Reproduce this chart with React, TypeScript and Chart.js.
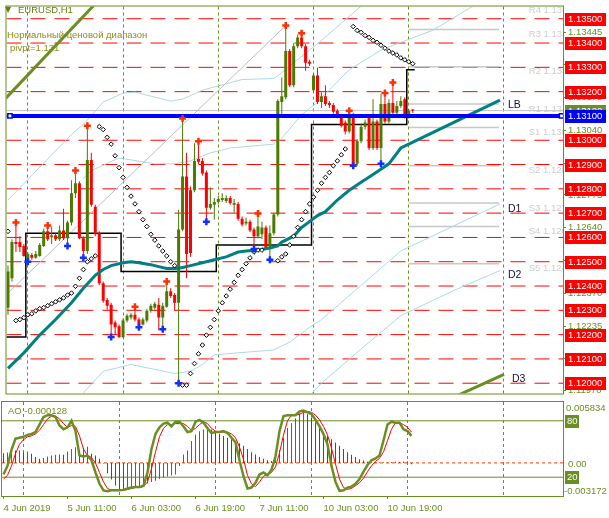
import React, { useEffect, useRef } from "react";
import { Chart, registerables } from "chart.js";

Chart.register(...registerables);

const W = 609;
const MAIN_H = 400;
const SUB_H = 118;
const X_MIN = -0.375;
const X_MAX = 139.875;
const Y_MIN = 1.119577;
const Y_MAX = 1.135504;
const AO_MIN = -0.003172;
const AO_MAX = 0.005834;

const OLIVE = "#6B8E23";
const UP = "#4a7a00";
const DOWN = "#ff0000";
const FONT = "Liberation Sans";

// ---------- candles (EURUSD H1) ----------
const OPEN = [
  1.12311, 1.12432, 1.12581, 1.12581, 1.12565, 1.12504, 1.12528, 1.12516, 1.12524, 1.12565,
  1.12625, 1.12601, 1.12609, 1.12593, 1.12629, 1.12597, 1.12661, 1.12782, 1.12823, 1.12597,
  1.12544, 1.12919, 1.12726, 1.12617, 1.12411, 1.12343, 1.12323, 1.1225, 1.12234, 1.1219,
  1.12258, 1.1227, 1.12282, 1.12262, 1.12242, 1.12258, 1.12298, 1.12311, 1.12323, 1.1227,
  1.12315, 1.12379, 1.12363, 1.12331, 1.12633, 1.12851, 1.12794, 1.12794, 1.12923, 1.12915,
  1.12867, 1.12722, 1.12734, 1.12746, 1.12754, 1.1275, 1.12762, 1.12734, 1.12738, 1.12677,
  1.12657, 1.12665, 1.12633, 1.12605, 1.12613, 1.12641, 1.12556, 1.12617, 1.12694, 1.13157,
  1.13177, 1.13367, 1.13226, 1.13387, 1.13423, 1.13387, 1.13323, 1.13206, 1.13266, 1.13157,
  1.13181, 1.13153, 1.13145, 1.13121, 1.13101, 1.13073, 1.13036, 1.13105, 1.12903, 1.12996,
  1.13056, 1.13093, 1.12968, 1.13077, 1.12968, 1.13149, 1.13077, 1.13153, 1.13113, 1.13141,
  1.13169, 1.13097, 1.13125,
];
const HIGH = [
  1.12484, 1.12593, 1.12661, 1.12605, 1.12573, 1.1254, 1.12536, 1.12544, 1.12577, 1.12637,
  1.12649, 1.12645, 1.12617, 1.12649, 1.12718, 1.12669, 1.12835, 1.12875, 1.12831, 1.12605,
  1.1306, 1.12948, 1.12734, 1.12625, 1.12419, 1.12351, 1.12331, 1.12258, 1.12242, 1.12266,
  1.12286, 1.1229, 1.12315, 1.1227, 1.1227, 1.12307, 1.12327, 1.12335, 1.12351, 1.12331,
  1.12419, 1.12391, 1.12371, 1.12714, 1.13089, 1.12948, 1.1281, 1.12988, 1.12996, 1.12927,
  1.12875, 1.12806, 1.12762, 1.1277, 1.12782, 1.12774, 1.1277, 1.12758, 1.12746, 1.12686,
  1.12681, 1.12673, 1.12641, 1.12698, 1.12665, 1.12649, 1.12649, 1.12702, 1.13169, 1.13258,
  1.13472, 1.13375, 1.13399, 1.13435, 1.1344, 1.13395, 1.13331, 1.13274, 1.13298, 1.13198,
  1.13226, 1.13161, 1.13153, 1.13129, 1.13109, 1.13081, 1.13121, 1.13113, 1.13004, 1.13069,
  1.13085, 1.13101, 1.13169, 1.13085, 1.1319, 1.13194, 1.13169, 1.13238, 1.13161, 1.13181,
  1.13177, 1.13129, 1.13129,
];
const LOW = [
  1.12282, 1.12419, 1.1254, 1.1254, 1.1252, 1.125, 1.12508, 1.12512, 1.1252, 1.12561,
  1.12585, 1.12573, 1.12585, 1.12585, 1.12589, 1.12565, 1.12649, 1.12762, 1.12593, 1.12516,
  1.12532, 1.12726, 1.12605, 1.12403, 1.12331, 1.12302, 1.1219, 1.12198, 1.12186, 1.12186,
  1.1225, 1.12262, 1.12254, 1.1223, 1.12238, 1.1225, 1.1229, 1.12302, 1.12218, 1.12222,
  1.12311, 1.12351, 1.12298, 1.12, 1.12625, 1.12432, 1.1252, 1.12786, 1.12903, 1.12855,
  1.12665, 1.12714, 1.12673, 1.12738, 1.12746, 1.12742, 1.12734, 1.12702, 1.12669, 1.12645,
  1.12649, 1.12621, 1.12552, 1.12597, 1.12593, 1.12548, 1.12508, 1.12609, 1.12686, 1.13097,
  1.13169, 1.13218, 1.13218, 1.13379, 1.13379, 1.13286, 1.13306, 1.13198, 1.13149, 1.13133,
  1.13141, 1.13133, 1.13109, 1.13089, 1.13052, 1.13024, 1.13028, 1.12895, 1.12895, 1.12988,
  1.13044, 1.1296, 1.1296, 1.1296, 1.12903, 1.13069, 1.13069, 1.13105, 1.13105, 1.13133,
  1.13089, 1.13089, 1.13113,
];
const CLOSE = [
  1.1246, 1.12581, 1.12573, 1.12561, 1.12524, 1.12532, 1.12516, 1.12532, 1.12569, 1.12625,
  1.12593, 1.12609, 1.12593, 1.12629, 1.12597, 1.12661, 1.12782, 1.12823, 1.12597, 1.12544,
  1.12919, 1.12734, 1.12613, 1.12411, 1.12339, 1.12319, 1.12242, 1.1223, 1.1219, 1.12258,
  1.12278, 1.12282, 1.12262, 1.12238, 1.12262, 1.12298, 1.12319, 1.12327, 1.1227, 1.12319,
  1.12379, 1.12359, 1.12331, 1.12633, 1.12851, 1.12532, 1.12536, 1.12915, 1.12911, 1.12863,
  1.12722, 1.12738, 1.12746, 1.12758, 1.12762, 1.12762, 1.12742, 1.12742, 1.12677, 1.12653,
  1.12665, 1.12629, 1.12605, 1.12645, 1.12641, 1.12556, 1.12617, 1.12694, 1.13161, 1.13181,
  1.13367, 1.13226, 1.13387, 1.13423, 1.13387, 1.13319, 1.13315, 1.13266, 1.13157, 1.13181,
  1.13149, 1.13145, 1.13117, 1.13097, 1.1306, 1.13036, 1.13105, 1.12903, 1.12996, 1.13056,
  1.13073, 1.12968, 1.13077, 1.12968, 1.13149, 1.13077, 1.13153, 1.13113, 1.13141, 1.13161,
  1.13097, 1.13121, 1.13122,
];

const FRACTAL_UP_BARS = [2, 10, 17, 20, 32, 40, 44, 48, 63, 70, 74, 86, 95, 97];
const FRACTAL_DOWN_BARS = [5, 15, 19, 26, 33, 39, 43, 50, 62, 66, 87, 94];

const SAR = [
  1.12625, null, 1.12258, 1.12262, 1.1227, 1.12282, 1.12286, 1.12298, 1.12307, 1.12311,
  1.12319, 1.12327, 1.12335, 1.12343, 1.12351, 1.12363, 1.12371, 1.12399, 1.12432, 1.12468,
  1.125, 1.12512, 1.12524, 1.13056, 1.13044, 1.13012, 1.12984, 1.12936, 1.12887, 1.12847,
  1.12806, 1.1277, 1.12738, 1.12706, 1.12673, 1.12645, 1.12613, 1.12589, 1.12565, 1.12544,
  1.12524, 1.125, 1.12484, null, 1.11992, 1.11992, 1.1204, 1.12081, 1.12121, 1.12157,
  1.12198, 1.1223, 1.12262, 1.12298, 1.12331, 1.12359, 1.12387, 1.12415, 1.12444, 1.12468,
  1.12492, 1.12516, 1.1254, 1.12548, 1.12548, null, null, null, 1.12504, 1.1252,
  1.12532, 1.12569, 1.12605, 1.12641, 1.12673, 1.12706, 1.12738, 1.12766, 1.12794, 1.12823,
  1.12847, 1.12867, 1.12895, 1.12915, 1.1294, 1.12964, null, 1.13468, 1.13452, 1.13444,
  1.13431, 1.13423, 1.13411, 1.13403, 1.13391, 1.13379, 1.13367, 1.13359, 1.13351, 1.13339,
  1.13331, 1.13323, 1.13315,
];

const MA_BARS = [0, 4, 8, 12, 16, 19, 22, 24, 26, 29, 31, 33, 36, 38, 40, 42, 44, 46, 50, 52, 55, 58, 60, 63, 66, 68, 69, 72, 74, 76, 78, 80, 83, 86, 89, 92, 96, 99, 101, 124];
const MA_VALUES = [
  1.12061, 1.12125, 1.12198, 1.12262, 1.12331, 1.12391, 1.12444, 1.12468, 1.12484, 1.12496,
  1.125, 1.12496, 1.12488, 1.1248, 1.12472, 1.12472, 1.12476, 1.12484, 1.125, 1.12508,
  1.1252, 1.1254, 1.12544, 1.12548, 1.12556, 1.12565, 1.12581, 1.12605, 1.12641, 1.12665,
  1.1269, 1.12706, 1.12754, 1.12794, 1.12827, 1.12859, 1.12903, 1.12968, 1.12984, 1.13165,
];

const UPPER_BARS = [0, 16, 19, 24, 29, 32, 41, 44, 49, 59, 67, 69, 72, 76, 79, 89, 92];
const UPPER_VALUES = [1.12754, 1.13024, 1.13065, 1.13157, 1.13194, 1.13198, 1.13161, 1.13169, 1.13206, 1.1325, 1.13254, 1.13278, 1.13319, 1.13371, 1.13411, 1.13552, 1.13595];
const MID_BARS = [19, 21, 28, 37, 42, 46, 51, 56, 67, 69, 74, 78, 86, 94, 99, 107, 118, 124];
const MID_VALUES = [1.12843, 1.12875, 1.12927, 1.12903, 1.12903, 1.12915, 1.12948, 1.12968, 1.12984, 1.13008, 1.13105, 1.13157, 1.1329, 1.13371, 1.13403, 1.13452, 1.1356, 1.13609];
const LOWER_BARS = [19, 24, 31, 37, 42, 46, 49, 52, 61, 67, 71, 76, 79, 99, 124];
const LOWER_VALUES = [1.1196, 1.12049, 1.12077, 1.12057, 1.1204, 1.12049, 1.12077, 1.12117, 1.12129, 1.12137, 1.12169, 1.1223, 1.12262, 1.12544, 1.12738];
const D2_BARS = [75, 79, 89, 99, 112, 124];
const D2_VALUES = [1.11932, 1.12, 1.12141, 1.12278, 1.12379, 1.12464];

const TREND_BARS = [0, 70];
const TREND_VALUES = [1.12371, 1.13472];
const OLIVE_TOP_BARS = [-1, 24];
const OLIVE_TOP_VALUES = [1.13165, 1.13596];
const D3_BARS = [112, 125];
const D3_VALUES = [1.1194, 1.12036];

const DAY_START_BARS = [-0.5, 4.5, 28.5, 52.5, 76.5, 100.5, 102.5];
const DAY_LEVELS = [1.1219, 1.12617, 1.1246, 1.12569, 1.13065, 1.1329, 1.1329];

const PIVOT_NAMES = ["R4", "R3", "R2", "R1", "S1", "S2", "S3", "S4", "S5"];
const PIVOT_LEVELS = [1.13556, 1.13456, 1.13302, 1.13149, 1.13052, 1.12895, 1.12742, 1.12645, 1.12492];
const PIVOT_FROM = 101;
const PIVOT_TO = 123.75;
const PIVOT_LABEL_BAR = 131.25;

const LEVELS = [1.135, 1.134, 1.133, 1.132, 1.131, 1.13, 1.129, 1.128, 1.127, 1.126, 1.125, 1.124, 1.123, 1.122, 1.121, 1.12];
const BLUE_LEVEL = 1.131;
const BID = 1.13122;
const BLUE_MARK_BARS = [0.5, 139.5];

const AXIS_TICKS = [1.13445, 1.1331, 1.13175, 1.1304, 1.12905, 1.12775, 1.1264, 1.12505, 1.1237, 1.12235, 1.121, 1.1197];
const SEPARATOR_BARS = [5, 29, 53, 77, 101, 125];
const DATE_TICK_BARS = [0, 16, 32, 48, 64, 80, 96];
const DATE_LABELS = ["4 Jun 2019", "5 Jun 11:00", "6 Jun 03:00", "6 Jun 19:00", "7 Jun 11:00", "10 Jun 03:00", "10 Jun 19:00"];

// ---------- oscillator window ----------
const AO = [
  0.00093, 0.001, 0.00118, 0.00118, 0.00119, 0.00102, 0.0011, 0.00087, 0.00056, 0.0004,
  0.00046, 0.00062, 0.00071, 0.00078, 0.0008, 0.00079, 0.0011, 0.00133, 0.00149, 0.00118,
  0.0014, 0.00155, 0.00087, 0.00071, 0.0004, -0.00005, -0.00099, -0.0016, -0.00217, -0.00254,
  -0.00255, -0.00248, -0.0024, -0.0023, -0.00223, -0.00208, -0.00198, -0.00183, -0.0017, -0.00155,
  -0.0014, -0.0013, -0.00121, -0.00112, -0.0003, 0.0008, 0.00118, 0.0021, 0.00273, 0.00304,
  0.0032, 0.00329, 0.0032, 0.00304, 0.00279, 0.00257, 0.00242, 0.00226, 0.0021, 0.00189,
  0.00164, 0.00133, 0.00102, 0.0008, 0.00056, 0.0004, 0.00025, 0.00019, 0.0004, 0.00124,
  0.00242, 0.00335, 0.0038, 0.00428, 0.00474, 0.00484, 0.00465, 0.00434, 0.0039, 0.0034,
  0.00298, 0.00257, 0.00226, 0.00195, 0.00164, 0.00133, 0.00102, 0.00078, 0.00056, 0.00034,
  0.00022, 0.00012, 0.00006, 0.00004, 0.00003, 0.00005, 0.00006, 0.00009, 0.00012, 0.00008,
  0.00013, 0.00015, -0.000128,
];
const STOCH_MAIN = [
  23, 32, 49, 61, 62, 63, 65, 66, 68, 76,
  84, 86, 86, 84, 75, 71, 73, 80, 69, 43,
  42, 43, 38, 25, 13, 6, 5, 6, 6, 6,
  6.5, 8, 9, 9.5, 9.5, 11, 25, 50, 66, 73,
  77, 78, 74, 79, 79, 74, 68, 69, 79, 81,
  78, 72, 67, 68, 68, 69, 67, 62, 57, 38,
  21, 8, 9, 14, 23, 25, 22, 28, 42, 69,
  85, 86, 86, 86, 90, 91, 89, 87, 81, 74,
  66, 55, 32, 15, 5.5, 6, 9, 10, 13, 18,
  26, 33, 38, 40, 43, 59, 76, 79, 78, 78,
  71, 69, 64,
];
const STOCH_SIGNAL = [
  18, 22, 32, 45, 55, 60, 63, 64, 66, 70,
  76, 82, 85, 85, 82, 77, 73, 75, 74, 64,
  50, 43, 41, 35, 25, 15, 8, 6, 6, 6,
  6, 7, 8, 9, 9, 10, 15, 29, 47, 63,
  72, 76, 76, 77, 77, 77, 74, 70, 72, 76,
  79, 77, 72, 69, 68, 68, 68, 66, 62, 52,
  39, 22, 13, 10, 15, 21, 23, 25, 31, 46,
  65, 80, 86, 86, 87, 89, 90, 89, 86, 81,
  74, 65, 51, 34, 18, 9, 7, 8, 11, 14,
  19, 26, 32, 37, 40, 47, 59, 71, 78, 78,
  76, 73, 68,
];
const STOCH_LEVELS = [80, 20];
const AO_LABEL = "AO -0.000128";

// ---------- helpers ----------
const pts = (bars: number[], vals: number[]) => bars.map((b, i) => ({ x: b, y: vals[i] }));
const lineDs = (data: any[], o: any) => ({
  type: "line",
  data,
  pointRadius: 0,
  borderWidth: 1,
  tension: 0,
  fill: false,
  ...o,
});

function mainConfig(): any {
  const candleColors = OPEN.map((o, i) => (CLOSE[i] >= o ? UP : DOWN));
  const datasets: any[] = [];

  datasets.push({
    type: "line",
    data: FRACTAL_UP_BARS.map((b) => ({ x: b, y: HIGH[b] })),
    showLine: false,
    pointStyle: "cross",
    pointRadius: 3.5,
    pointBorderWidth: 2.5,
    pointBorderColor: "#ff3000",
    order: 0,
  });
  datasets.push({
    type: "line",
    data: FRACTAL_DOWN_BARS.map((b) => ({ x: b, y: LOW[b] })),
    showLine: false,
    pointStyle: "cross",
    pointRadius: 3.5,
    pointBorderWidth: 2.5,
    pointBorderColor: "#1030ff",
    order: 0,
  });
  datasets.push({
    type: "line",
    data: SAR.map((v, i) => ({ x: i, y: v })).filter((p) => p.y !== null),
    showLine: false,
    pointStyle: "rectRot",
    pointRadius: 2.3,
    pointBorderWidth: 1,
    pointBorderColor: "#000000",
    pointBackgroundColor: "#ffffff",
    order: 1,
  });
  datasets.push({
    type: "line",
    data: BLUE_MARK_BARS.map((b) => ({ x: b, y: BLUE_LEVEL })),
    showLine: false,
    pointStyle: "rect",
    pointRadius: 3,
    pointBorderWidth: 1.5,
    pointBorderColor: "#0000ff",
    pointBackgroundColor: "#ffffff",
    order: 2,
  });
  datasets.push(lineDs([{ x: X_MIN, y: BLUE_LEVEL }, { x: X_MAX, y: BLUE_LEVEL }], { borderColor: "#0000ff", borderWidth: 4, order: 3 }));
  datasets.push(lineDs(pts(MA_BARS, MA_VALUES), { borderColor: "#008080", borderWidth: 3, order: 4, endLabel: "LB" }));
  datasets.push({
    type: "bar",
    data: OPEN.map((o, i) => ({ x: i, y: [o, CLOSE[i]] })),
    backgroundColor: candleColors,
    barThickness: 3,
    grouped: false,
    minBarLength: 1,
    inflateAmount: 0,
    borderWidth: 0,
    order: 5,
  });
  datasets.push({
    type: "bar",
    data: HIGH.map((h, i) => ({ x: i, y: [LOW[i], h] })),
    backgroundColor: candleColors,
    barThickness: 1,
    grouped: false,
    inflateAmount: 0,
    borderWidth: 0,
    order: 6,
  });
  datasets.push(lineDs(pts(DAY_START_BARS, DAY_LEVELS), { borderColor: "#000000", borderWidth: 1.5, stepped: "before", order: 7 }));
  datasets.push(lineDs(pts(OLIVE_TOP_BARS, OLIVE_TOP_VALUES), { borderColor: OLIVE, borderWidth: 3, order: 8 }));
  datasets.push(lineDs(pts(D3_BARS, D3_VALUES), { borderColor: OLIVE, borderWidth: 3, order: 8, endLabel: "D3" }));
  datasets.push(lineDs(pts(TREND_BARS, TREND_VALUES), { borderColor: "#bdbdbd", borderWidth: 1, order: 9 }));
  datasets.push(lineDs(pts(UPPER_BARS, UPPER_VALUES), { borderColor: "#add8e6", order: 10 }));
  datasets.push(lineDs(pts(MID_BARS, MID_VALUES), { borderColor: "#add8e6", order: 10 }));
  datasets.push(lineDs(pts(LOWER_BARS, LOWER_VALUES), { borderColor: "#add8e6", order: 10, endLabel: "D1" }));
  datasets.push(lineDs(pts(D2_BARS, D2_VALUES), { borderColor: "#add8e6", order: 10, endLabel: "D2" }));
  PIVOT_LEVELS.forEach((lv) => {
    datasets.push(lineDs([{ x: PIVOT_FROM, y: lv }, { x: PIVOT_TO, y: lv }], { borderColor: "#c8c8c8", borderWidth: 1.5, order: 11 }));
  });
  datasets.push(lineDs([{ x: X_MIN, y: BID }, { x: X_MAX, y: BID }], { borderColor: "#c0c0c0", borderWidth: 1, order: 12 }));
  LEVELS.forEach((lv) => {
    datasets.push(lineDs([{ x: X_MIN, y: lv }, { x: X_MAX, y: lv }], { borderColor: "#ff0000", borderWidth: 1, borderDash: [15, 9], order: 13 }));
  });

  const mainDecor = {
    id: "mainDecor",
    afterDatasetsDraw(chart: any) {
      const { ctx, chartArea: ca, scales } = chart;
      const xs = scales.x;
      const ys = scales.y;
      ctx.save();
      ctx.beginPath();
      ctx.rect(ca.left, 0, ca.right - ca.left, chart.height);
      ctx.clip();
      ctx.textAlign = "left";
      ctx.textBaseline = "middle";
      ctx.font = `9.5px "${FONT}"`;
      ctx.fillStyle = "#cdcdcd";
      PIVOT_NAMES.forEach((name, i) => {
        const lv = PIVOT_LEVELS[i];
        ctx.fillText(`${name} ${lv.toFixed(4)}`, xs.getPixelForValue(PIVOT_LABEL_BAR), ys.getPixelForValue(lv) + 5);
      });
      ctx.font = `10.5px "${FONT}"`;
      ctx.fillStyle = "#101040";
      chart.data.datasets.forEach((ds: any, i: number) => {
        if (!ds.endLabel) return;
        const el = chart.getDatasetMeta(i).data;
        const p = el[el.length - 1];
        ctx.fillText(ds.endLabel, Math.max(p.x + 8, 508), p.y + 5);
      });
      ctx.restore();
    },
    afterDraw(chart: any) {
      const { ctx, chartArea: ca, scales } = chart;
      const ys = scales.y;
      ctx.save();
      ctx.strokeStyle = OLIVE;
      ctx.lineWidth = 1;
      ctx.strokeRect(ca.left - 0.5, ca.top - 0.5, ca.right - ca.left + 1, ca.bottom - ca.top + 1);

      // top-left texts
      ctx.textAlign = "left";
      ctx.textBaseline = "middle";
      ctx.fillStyle = "#6a7a14";
      ctx.font = `8px "DejaVu Sans"`;
      ctx.fillText("▼", 5, 10);
      ctx.font = `9.5px "${FONT}"`;
      ctx.fillText("EURUSD,H1", 18, 10.5);
      ctx.fillStyle = "#8c8c1c";
      ctx.fillText("Нормальный ценовой диапазон", 7, 35);
      ctx.fillText("pivpt=1.131", 10, 48);

      // right-hand price labels
      const boxX = ca.right + 2;
      const drawBox = (v: number, bg: string, text: string) => {
        const py = Math.round(ys.getPixelForValue(v));
        ctx.fillStyle = bg;
        ctx.fillRect(boxX, py - 6, 41, 13);
        ctx.fillStyle = "#ffffff";
        ctx.fillText(text, boxX + 3, py + 0.5);
      };
      LEVELS.forEach((lv) => {
        if (Math.abs(lv - BLUE_LEVEL) < 1e-9) return;
        drawBox(lv, "#ff0000", lv.toFixed(5));
      });
      drawBox(BID, OLIVE, BID.toFixed(5));
      drawBox(BLUE_LEVEL, "#0000ff", BLUE_LEVEL.toFixed(5));
      ctx.restore();
    },
  };

  return {
    type: "bar",
    data: { datasets },
    options: {
      responsive: false,
      animation: false,
      events: [],
      layout: { padding: { left: 2, top: 3, right: 0, bottom: 2 } },
      plugins: { legend: { display: false }, tooltip: { enabled: false } },
      scales: {
        x: {
          type: "linear",
          position: "bottom",
          min: X_MIN,
          max: X_MAX,
          offset: false,
          afterBuildTicks: (s: any) => {
            s.ticks = SEPARATOR_BARS.map((v) => ({ value: v }));
          },
          afterFit: (s: any) => {
            s.height = 0;
            s.paddingLeft = 0;
            s.paddingRight = 0;
          },
          ticks: { display: false },
          grid: { color: OLIVE, lineWidth: 1, drawTicks: false, offset: false },
          border: { display: false, dash: [3, 3] },
        },
        y: {
          type: "linear",
          position: "right",
          min: Y_MIN,
          max: Y_MAX,
          afterBuildTicks: (s: any) => {
            s.ticks = AXIS_TICKS.map((v) => ({ value: v }));
          },
          afterFit: (s: any) => {
            s.width = 46;
            s.paddingTop = 0;
            s.paddingBottom = 0;
          },
          ticks: {
            color: OLIVE,
            font: { family: FONT, size: 9.5 },
            padding: 2,
            autoSkip: false,
            callback: (v: any) => Number(v).toFixed(5),
          },
          grid: { drawOnChartArea: false, drawTicks: true, tickLength: 3, color: OLIVE, offset: false },
          border: { display: false },
        },
      },
    },
    plugins: [mainDecor],
  };
}

function subConfig(): any {
  const aoColors = AO.map((v, i) => (i > 0 && v > AO[i - 1] ? UP : DOWN));
  const datasets: any[] = [
    lineDs(STOCH_MAIN.map((v, i) => ({ x: i, y: v })), { yAxisID: "yS", borderColor: OLIVE, borderWidth: 2.5, order: 0 }),
    lineDs(STOCH_SIGNAL.map((v, i) => ({ x: i, y: v })), { yAxisID: "yS", borderColor: "#ff0000", borderWidth: 1, order: 1 }),
    {
      type: "bar",
      yAxisID: "y",
      data: AO.map((v, i) => ({ x: i, y: v })),
      backgroundColor: aoColors,
      barThickness: 1,
      grouped: false,
      inflateAmount: 0,
      borderWidth: 0,
      order: 3,
    },
    lineDs([{ x: X_MIN, y: 0 }, { x: X_MAX, y: 0 }], { yAxisID: "y", borderColor: "#ff3c00", borderWidth: 1, borderDash: [3, 3], order: 4 }),
    ...STOCH_LEVELS.map((lv) => lineDs([{ x: X_MIN, y: lv }, { x: X_MAX, y: lv }], { yAxisID: "yS", borderColor: OLIVE, borderWidth: 1, order: 5 })),
  ];

  const subDecor = {
    id: "subDecor",
    afterDraw(chart: any) {
      const { ctx, chartArea: ca, scales } = chart;
      const yA = scales.y;
      const yS = scales.yS;
      ctx.save();
      ctx.strokeStyle = OLIVE;
      ctx.lineWidth = 1;
      ctx.strokeRect(ca.left - 0.5, ca.top - 0.5, ca.right - ca.left + 1, ca.bottom - ca.top + 1);
      ctx.textAlign = "left";
      ctx.textBaseline = "middle";
      ctx.font = `9.5px "${FONT}"`;
      ctx.fillStyle = OLIVE;
      ctx.fillText(AO_LABEL, 8, ca.top + 9);
      ctx.fillText(AO_MAX.toFixed(6), ca.right + 3, ca.top + 6);
      ctx.fillText("0.00", ca.right + 5, yA.getPixelForValue(0) + 1);
      ctx.fillText(AO_MIN.toFixed(6), ca.right + 1, ca.bottom - 5);
      STOCH_LEVELS.forEach((lv) => {
        const py = Math.round(yS.getPixelForValue(lv));
        ctx.fillStyle = OLIVE;
        ctx.fillRect(ca.right + 2, py - 6, 14, 13);
        ctx.fillStyle = "#ffffff";
        ctx.fillText(String(lv), ca.right + 4, py + 0.5);
      });
      ctx.restore();
    },
  };

  return {
    type: "bar",
    data: { datasets },
    options: {
      responsive: false,
      animation: false,
      events: [],
      layout: { padding: { left: 2, top: 2, right: 0, bottom: 0 } },
      plugins: { legend: { display: false }, tooltip: { enabled: false } },
      scales: {
        x: {
          type: "linear",
          position: "bottom",
          min: X_MIN,
          max: X_MAX,
          offset: false,
          afterBuildTicks: (s: any) => {
            s.ticks = DATE_TICK_BARS.map((v) => ({ value: v }));
          },
          afterFit: (s: any) => {
            s.height = 22;
            s.paddingLeft = 0;
            s.paddingRight = 0;
          },
          ticks: {
            display: true,
            align: "start",
            maxRotation: 0,
            minRotation: 0,
            autoSkip: false,
            color: OLIVE,
            padding: 4,
            font: { family: FONT, size: 9.5 },
            callback: (_v: any, i: number) => DATE_LABELS[i],
          },
          grid: { drawOnChartArea: false, drawTicks: true, tickLength: 3, color: OLIVE, offset: false },
          border: { display: false },
        },
        x2: {
          type: "linear",
          position: "top",
          min: X_MIN,
          max: X_MAX,
          offset: false,
          afterBuildTicks: (s: any) => {
            s.ticks = SEPARATOR_BARS.map((v) => ({ value: v }));
          },
          afterFit: (s: any) => {
            s.height = 0;
          },
          ticks: { display: false },
          grid: { color: OLIVE, lineWidth: 1, drawTicks: false, offset: false },
          border: { display: false, dash: [3, 3] },
        },
        y: {
          type: "linear",
          position: "right",
          min: AO_MIN,
          max: AO_MAX,
          afterFit: (s: any) => {
            s.width = 46;
            s.paddingTop = 0;
            s.paddingBottom = 0;
          },
          ticks: { display: false },
          grid: { display: false },
          border: { display: false },
        },
        yS: { type: "linear", position: "right", min: 0, max: 100, display: false },
      },
    },
    plugins: [subDecor],
  };
}

export default function App() {
  const mainRef = useRef<HTMLCanvasElement>(null);
  const subRef = useRef<HTMLCanvasElement>(null);
  useEffect(() => {
    document.body.style.margin = "0";
    const main = new Chart(mainRef.current as HTMLCanvasElement, mainConfig());
    const sub = new Chart(subRef.current as HTMLCanvasElement, subConfig());
    return () => {
      main.destroy();
      sub.destroy();
    };
  }, []);
  return (
    <div style={{ width: W, height: MAIN_H + SUB_H, background: "#ffffff" }}>
      <canvas ref={mainRef} width={W} height={MAIN_H} style={{ display: "block", width: W, height: MAIN_H }} />
      <canvas ref={subRef} width={W} height={SUB_H} style={{ display: "block", width: W, height: SUB_H }} />
    </div>
  );
}
